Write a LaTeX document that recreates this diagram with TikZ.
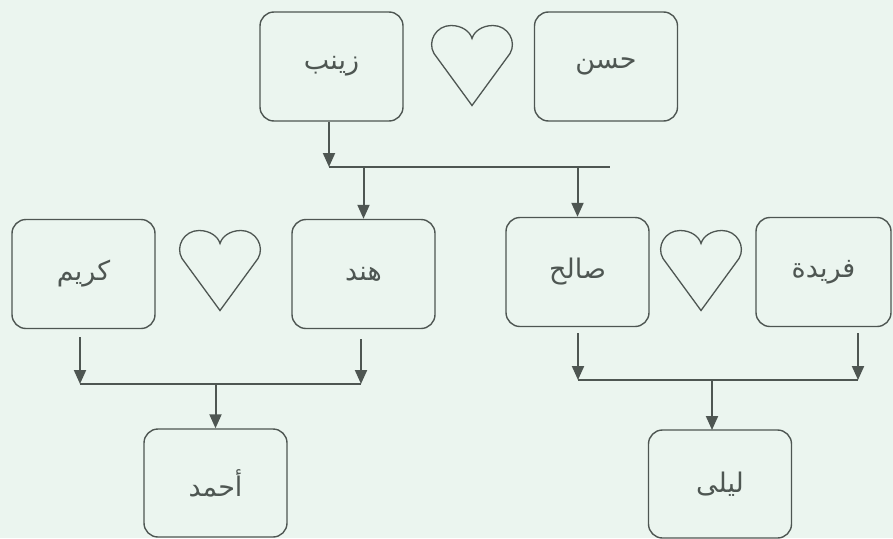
\documentclass[tikz,border=0pt]{standalone}
\usepackage{fontspec}
\usetikzlibrary{arrows.meta}
\newfontfamily\arabicfont[Script=Arabic]{DejaVu Sans}
\TeXXeTstate=1
\definecolor{mint}{RGB}{235,245,239}
\definecolor{ink}{RGB}{78,86,82}

\tikzset{
  person/.style={draw=ink, line width=1.4pt, rounded corners=14pt,
    minimum width=143pt, minimum height=109pt, text=ink,
    font=\arabicfont\fontsize{27}{31}\selectfont},
  link/.style={draw=ink, line width=2pt},
  godown/.style={link, -{Triangle[width=12pt,length=14pt]}},
  heart/.pic={
    \draw[ink, line width=1.3pt] (0,40) -- (-38,-12)
      .. controls (-45,-24) and (-36,-40) .. (-21,-40)
      .. controls (-10,-40) and (-2,-34) .. (0,-27)
      .. controls (2,-34) and (10,-40) .. (21,-40)
      .. controls (36,-40) and (45,-24) .. (38,-12) -- cycle;
  }
}

\begin{document}
\begin{tikzpicture}[x=1pt,y=-1pt]
\fill[mint] (0,0) rectangle (893,538);
\useasboundingbox (0,0) rectangle (893,538);

% first generation
\node [person] (zaynab) at (331.5,66.5) {\beginR زينب\endR};
\node [person] (hasan) at (606,66.5) {\beginR حسن\endR};
\pic at (472,65.5) {heart};

% second generation
\node [person] (karim) at (83.5,274) {\beginR كريم\endR};
\node [person] (hind) at (363.5,274) {\beginR هند\endR};
\node [person] (salih) at (577.5,272) {\beginR صالح\endR};
\node [person, minimum width=135pt] (farida) at (823.5,272) {\beginR فريدة\endR};
\pic at (220,270.5) {heart};
\pic at (701,270.5) {heart};

% third generation
\node [person, minimum height=108pt] (ahmad) at (215.5,483) {\beginR أحمد\endR};
\node [person, minimum height=108pt] (layla) at (720,484) {\beginR ليلى\endR};

% junctions
\coordinate (J1) at (329,167);
\coordinate (J1end) at (610,167);
\coordinate (J2) at (80,384);
\coordinate (J2end) at (361,384);
\coordinate (J3) at (578,380);
\coordinate (J3end) at (858,380);

\draw [godown] (zaynab.south -| J1) -- (J1);
\draw [link] (J1) -- (J1end);
\draw [godown] (J1 -| hind.north) -- (hind.north);
\draw [godown] (J1 -| salih.north) -- (salih.north);

\draw [godown] (80,337) -- (J2);
\draw [godown] (361,339) -- (J2end);
\draw [link] (J2) -- (J2end);
\draw [godown] (J2 -| ahmad.north) -- (ahmad.north);

\draw [godown] (578,333) -- (J3);
\draw [godown] (858,333) -- (J3end);
\draw [link] (J3) -- (J3end);
\draw [godown] (712,380) -- (712,430);
\end{tikzpicture}
\end{document}
